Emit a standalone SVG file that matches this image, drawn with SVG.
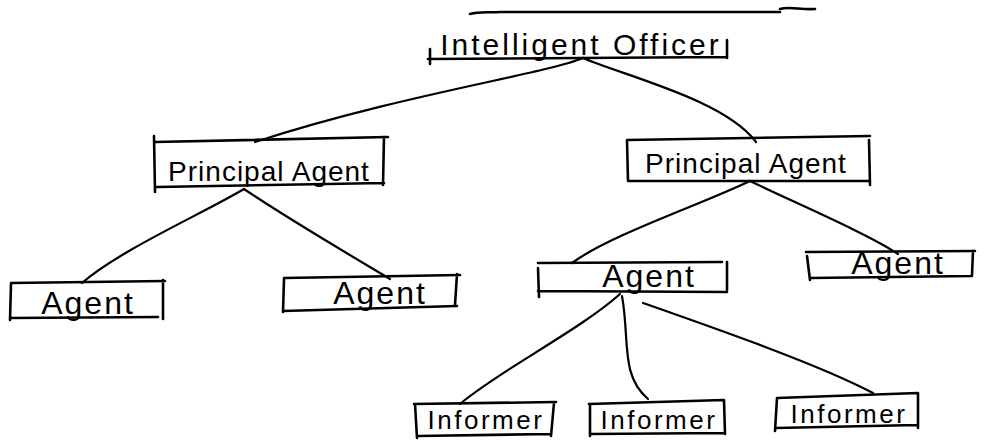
<svg xmlns="http://www.w3.org/2000/svg" width="999" height="448" viewBox="0 0 999 448">
<style>
.b{fill:none;stroke:#000;stroke-width:2.6;stroke-linecap:round;stroke-linejoin:round}
.c{fill:none;stroke:#000;stroke-width:2.2;stroke-linecap:round}
.t{font-family:"Liberation Sans","DejaVu Sans",sans-serif;fill:#000;text-anchor:middle}
.pa{font-size:28px;letter-spacing:1px}
.ag{font-size:32px;letter-spacing:2px}
.in{font-size:26px;letter-spacing:2.5px}
</style>
<rect width="999" height="448" fill="#fff"/>
<g id="connectors">
<path class="c" d="M583,58 C545,74 400,95 255,142"/>
<path class="c" d="M583,58 C625,76 725,100 756,142"/>
<path class="c" d="M244,189 C200,215 120,250 82,283"/>
<path class="c" d="M244,189 C290,220 350,255 390,279"/>
<path class="c" d="M750,181 C700,205 610,235 572,263"/>
<path class="c" d="M750,181 C800,205 870,235 898,254"/>
<path class="c" d="M620,294 C580,330 500,370 460,404"/>
<path class="c" d="M622,296 C630,340 620,375 648,399"/>
<path class="c" d="M643,303 C720,330 820,365 873,393"/>
</g>
<g id="intelligent-officer">
<path class="b" d="M470,14 C480,11 490,13 500,12 L780,12"/>
<path class="b" d="M780,9 C790,6 800,10 815,9"/>
<path class="b" d="M430,49 L430,64 M428,59 L726,57 M727,40 L727,58"/>
<text class="t" x="581" y="55" font-size="30" letter-spacing="3">Intelligent Officer</text>
</g>
<g id="principal-agent-left">
<path class="b" d="M154,136 L155,192 M155,142 L388,137 M384,137 L383,185 M157,187 L384,183"/>
<text class="t pa" x="269" y="181">Principal Agent</text>
</g>
<g id="principal-agent-right">
<path class="b" d="M627,140 L628,181 M627,140 L870,136 M869,140 L870,185 M628,181 L868,181"/>
<text class="t pa" x="746" y="173">Principal Agent</text>
</g>
<g id="agent-1">
<path class="b" d="M11,283 L165,281 M11,284 L10,320 M10,318 L158,317 M163,280 L163,319"/>
<text class="t ag" x="88" y="314">Agent</text>
</g>
<g id="agent-2">
<path class="b" d="M284,278 L460,275 M284,279 L283,312 M283,311 L457,306 M457,274 L455,305"/>
<text class="t ag" x="380" y="304">Agent</text>
</g>
<g id="agent-3">
<path class="b" d="M538,263 L722,262 M538,268 L539,297 M538,291 L727,292 M727,262 L727,290"/>
<text class="t ag" x="649" y="287">Agent</text>
</g>
<g id="agent-4">
<path class="b" d="M806,252 L975,251 M807,256 L810,280 M810,278 L972,276 M973,251 L972,275"/>
<text class="t ag" x="898" y="274">Agent</text>
</g>
<g id="informer-1">
<path class="b" d="M414,404 L556,402 M415,404 L417,438 M417,436 L551,434 M554,403 L551,436"/>
<text class="t in" x="486" y="429">Informer</text>
</g>
<g id="informer-2">
<path class="b" d="M589,404 L724,400 M590,404 L590,436 M590,434 L724,433 M724,400 L725,434"/>
<text class="t in" x="659" y="429">Informer</text>
</g>
<g id="informer-3">
<path class="b" d="M777,398 L918,393 M777,398 L775,431 M776,428 L917,425 M918,393 L918,428"/>
<text class="t in" x="849" y="423">Informer</text>
</g>
</svg>
